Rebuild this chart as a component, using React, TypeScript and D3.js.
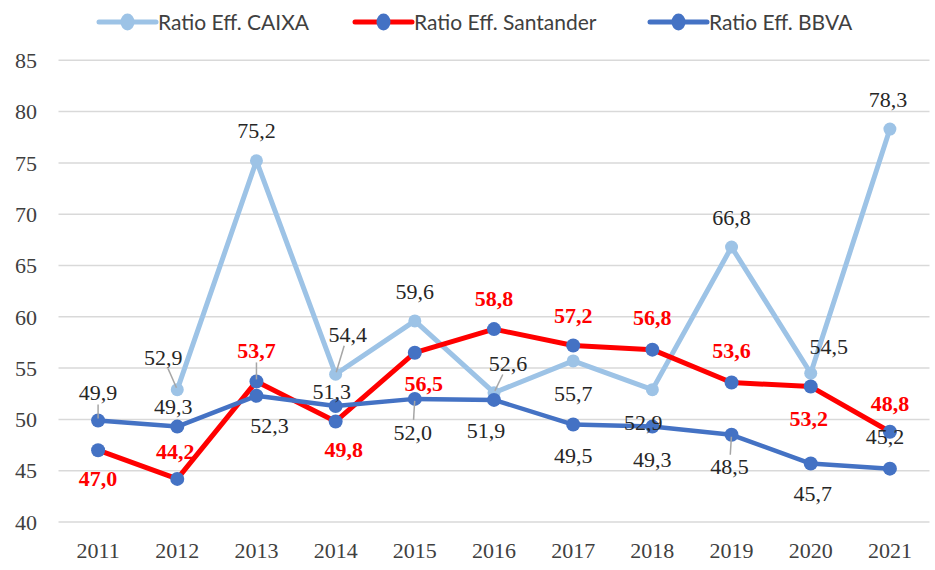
import React from "react";
import { scaleBand, scaleLinear, line } from "d3";

// Datos del gráfico
const years = ["2011", "2012", "2013", "2014", "2015", "2016", "2017", "2018", "2019", "2020", "2021"];
const caixa: (number | null)[] = [null, 52.9, 75.2, 54.4, 59.6, 52.6, 55.7, 52.9, 66.8, 54.5, 78.3];
const santander = [47.0, 44.2, 53.7, 49.8, 56.5, 58.8, 57.2, 56.8, 53.6, 53.2, 48.8];
const bbva = [49.9, 49.3, 52.3, 51.3, 52.0, 51.9, 49.5, 49.3, 48.5, 45.7, 45.2];
const yTicks = [40, 45, 50, 55, 60, 65, 70, 75, 80, 85];
const seriesNames = ["Ratio Eff. CAIXA", "Ratio Eff. Santander", "Ratio Eff. BBVA"];

// Desplazamiento de etiquetas [dx, dy, leader]
type Off = [number, number, boolean?];
const caixaOff: Off[] = [
  [0, 0], [-14, -32, true], [0, -31], [12, -40, true], [0, -30], [14, -29, true],
  [0, 32], [-9, 33], [0, -30], [18, -27], [-2, -30],
];
const santOff: Off[] = [
  [0, 28], [-2, -28], [0, -31, true], [8, 28], [9, 31], [0, -31],
  [0, -30], [0, -32], [0, -32], [-2, 32], [0, -28],
];
const bbvaOff: Off[] = [
  [0, -28, true], [-4, -20], [13, 29], [-4, -15], [-2, 33, true], [-8, 30],
  [0, 31], [0, 33], [-2, 32, true], [2, 30], [-5, -32],
];

const W = 935;
const H = 570;
const left = 58.5;
const right = 929.5;
const top = 60.3;
const bottom = 522;

const C_CAIXA = "#9DC3E6";
const C_RED = "#FF0000";
const C_BLUE = "#4472C4";
const serif = "'Liberation Serif', 'Times New Roman', serif";

const fmt = (v: number) => v.toFixed(1).replace(".", ",");

export default function App() {
  const x = scaleBand().domain(years).range([left, right]).padding(0);
  const cx = (yr: string) => (x(yr) ?? 0) + x.bandwidth() / 2;
  const y = scaleLinear().domain([40, 85]).range([bottom, top]);

  const series = [
    { name: seriesNames[0], values: caixa, line: C_CAIXA, marker: C_CAIXA, r: 6.5, lw: 5, off: caixaOff, label: "#262626", bold: false },
    { name: seriesNames[1], values: santander as (number | null)[], line: C_RED, marker: C_BLUE, r: 7, lw: 5, off: santOff, label: C_RED, bold: true },
    { name: seriesNames[2], values: bbva as (number | null)[], line: C_BLUE, marker: C_BLUE, r: 7, lw: 4.5, off: bbvaOff, label: "#262626", bold: false },
  ];

  const gen = line<{ yr: string; v: number | null }>()
    .defined((d) => d.v != null)
    .x((d) => cx(d.yr))
    .y((d) => y(d.v as number));

  const legendX = [99, 355, 650];

  return (
    <svg width={W} height={H} style={{ position: "absolute", left: 0, top: 0, background: "#fff" }}>
      {/* Grid */}
      {yTicks.map((t) => (
        <g key={t}>
          <line x1={left} x2={right} y1={y(t)} y2={y(t)} stroke="#D9D9D9" strokeWidth={1.5} />
          <text x={37} y={y(t)} dy="0.35em" textAnchor="end" fontFamily={serif} fontSize={22} fill="#404040">
            {t}
          </text>
        </g>
      ))}
      {years.map((yr) => (
        <text key={yr} x={cx(yr)} y={558} textAnchor="middle" fontFamily={serif} fontSize={22} fill="#404040">
          {yr}
        </text>
      ))}

      {/* Lines */}
      {series.map((s) => (
        <path
          key={s.name}
          d={gen(years.map((yr, i) => ({ yr, v: s.values[i] }))) ?? ""}
          fill="none"
          stroke={s.line}
          strokeWidth={s.lw}
          strokeLinejoin="round"
        />
      ))}
      {series.map((s) =>
        years.map((yr, i) =>
          s.values[i] == null ? null : (
            <circle key={s.name + yr} cx={cx(yr)} cy={y(s.values[i] as number)} r={s.r} fill={s.marker} />
          )
        )
      )}

      {/* Labels */}
      {series.map((s) =>
        years.map((yr, i) => {
          const v = s.values[i];
          if (v == null) return null;
          const [dx, dy, leader] = s.off[i];
          const px = cx(yr);
          const py = y(v);
          const L = Math.hypot(dx, dy);
          return (
            <g key={"l" + s.name + yr}>
              {leader && (
                <line
                  x1={px + (dx * 2) / L}
                  y1={py + (dy * 2) / L}
                  x2={px + (dx * (L - 12)) / L}
                  y2={py + (dy * (L - 12)) / L}
                  stroke="#A6A6A6"
                  strokeWidth={1.5}
                />
              )}
              <text
                x={px + dx}
                y={py + dy}
                dy="0.35em"
                textAnchor="middle"
                fontFamily={serif}
                fontSize={22}
                fontWeight={s.bold ? 700 : 400}
                fill={s.label}
              >
                {fmt(v)}
              </text>
            </g>
          );
        })
      )}

      {/* Legend */}
      {series.map((s, i) => (
        <g key={"lg" + s.name} transform={`translate(${legendX[i]},22)`}>
          <line x1={0} x2={57} y1={0} y2={0} stroke={s.line} strokeWidth={5} strokeLinecap="round" />
          <ellipse cx={28.5} cy={0} rx={7} ry={8.5} fill={s.marker} />
          <text x={59} y={0} dy="0.36em" fontFamily="Lato, 'Open Sans', sans-serif" fontSize={21} fill="#404040">
            {s.name}
          </text>
        </g>
      ))}
    </svg>
  );
}
